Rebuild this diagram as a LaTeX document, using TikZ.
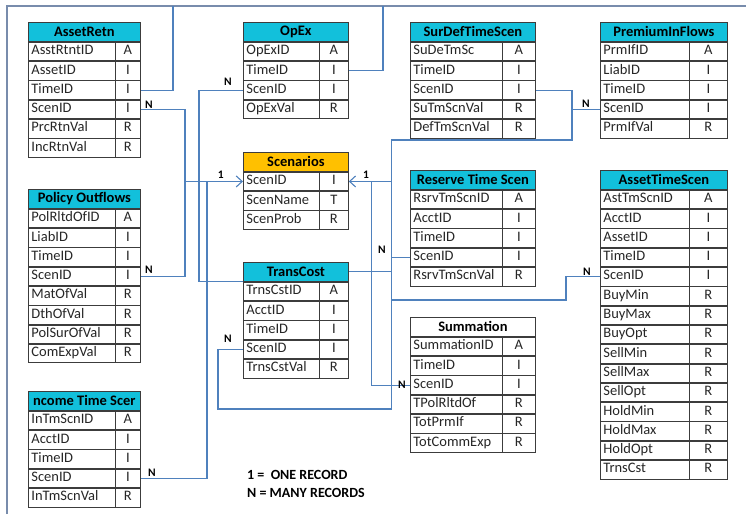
\documentclass[tikz,border=0pt]{standalone}
\usepackage{fontspec}
\setmainfont{Carlito}
\usetikzlibrary{positioning,arrows.meta}
\definecolor{headcyan}{RGB}{18,192,219}
\definecolor{headorange}{RGB}{255,192,0}
\definecolor{linkblue}{RGB}{79,129,189}
\definecolor{framegray}{RGB}{120,140,172}
\definecolor{gridgray}{RGB}{60,60,60}
\newlength{\fldw}
\newlength{\typw}
\newcommand{\tabfont}{\fontsize{14.5}{17}\selectfont}
\newcommand{\rw}[2]{\makebox[\fldw][l]{\hspace{3pt}#1}\makebox[\typw]{#2}}
\tikzset{
  cols/.code 2 args={\setlength{\fldw}{#1}\setlength{\typw}{#2}},
  hdr/.style={draw=gridgray, line width=0.8pt, fill=headcyan, font=\tabfont\bfseries,
    inner sep=0pt, minimum height=19pt, minimum width={\fldw+\typw}, anchor=north west},
  row/.style={draw=gridgray, line width=0.8pt, text=black!85, inner sep=0pt,
    minimum height=18.5pt, text height=10pt, text depth=3.5pt},
  sep/.style={draw=gridgray, line width=0.8pt},
  link/.style={draw=linkblue, line width=1.1pt},
  myarrow/.style={link, ->, >={Straight Barb[length=6pt,width=11pt]}},
  card/.style={font=\fontsize{11.5}{13}\selectfont\bfseries, inner sep=1pt},
  keytext/.style={font=\fontsize{14}{18}\selectfont\bfseries, inner sep=0pt, anchor=north west, align=left},
  frame/.style={draw=framegray, line width=1.5pt}
}

\begin{document}
\begin{tikzpicture}[x=1pt, y=-1pt, font=\tabfont]
    \useasboundingbox (0,0) rectangle (746,514);
    % outer frame
    \coordinate (fBL) at (7,514);
    \coordinate (fTR) at (746,6);
    \coordinate (topA) at (173,6);
    \coordinate (topB) at (383,6);
    \draw[frame] (fBL) |- (fTR);

    % AssetRetn
    \begin{scope}[cols={87pt}{25pt}]
    \node[hdr] (ar) at (28,22) {AssetRetn};
    \node[row, below=0pt of ar] (ar1) {\rw{AsstRtntID}{A}};
    \node[row, below=0pt of ar1] (ar2) {\rw{AssetID}{I}};
    \node[row, below=0pt of ar2] (ar3) {\rw{TimeID}{I}};
    \node[row, below=0pt of ar3] (ar4) {\rw{ScenID}{I}};
    \node[row, below=0pt of ar4] (ar5) {\rw{PrcRtnVal}{R}};
    \node[row, below=0pt of ar5] (ar6) {\rw{IncRtnVal}{R}};
    \draw[sep] ([xshift=\fldw]ar1.north west) -- ([xshift=\fldw]ar6.south west);
    \end{scope}

    % OpEx
    \begin{scope}[cols={76pt}{29pt}]
    \node[hdr] (ox) at (243,22) {OpEx};
    \node[row, below=0pt of ox] (ox1) {\rw{OpExID}{A}};
    \node[row, below=0pt of ox1] (ox2) {\rw{TimeID}{I}};
    \node[row, below=0pt of ox2] (ox3) {\rw{ScenID}{I}};
    \node[row, below=0pt of ox3] (ox4) {\rw{OpExVal}{R}};
    \draw[sep] ([xshift=\fldw]ox1.north west) -- ([xshift=\fldw]ox4.south west);
    \end{scope}

    % SurDefTimeScen
    \begin{scope}[cols={92pt}{33pt}]
    \node[hdr] (sd) at (410,22) {SurDefTimeScen};
    \node[row, below=0pt of sd] (sd1) {\rw{SuDeTmSc}{A}};
    \node[row, below=0pt of sd1] (sd2) {\rw{TimeID}{I}};
    \node[row, below=0pt of sd2] (sd3) {\rw{ScenID}{I}};
    \node[row, below=0pt of sd3] (sd4) {\rw{SuTmScnVal}{R}};
    \node[row, below=0pt of sd4] (sd5) {\rw{DefTmScnVal}{R}};
    \draw[sep] ([xshift=\fldw]sd1.north west) -- ([xshift=\fldw]sd5.south west);
    \end{scope}

    % PremiumInFlows
    \begin{scope}[cols={89pt}{38pt}]
    \node[hdr] (pf) at (600,22) {PremiumInFlows};
    \node[row, below=0pt of pf] (pf1) {\rw{PrmIfID}{A}};
    \node[row, below=0pt of pf1] (pf2) {\rw{LiabID}{I}};
    \node[row, below=0pt of pf2] (pf3) {\rw{TimeID}{I}};
    \node[row, below=0pt of pf3] (pf4) {\rw{ScenID}{I}};
    \node[row, below=0pt of pf4] (pf5) {\rw{PrmIfVal}{R}};
    \draw[sep] ([xshift=\fldw]pf1.north west) -- ([xshift=\fldw]pf5.south west);
    \end{scope}

    % Scenarios
    \begin{scope}[cols={76pt}{29pt}]
    \node[hdr, fill=headorange] (sc) at (243,152) {Scenarios};
    \node[row, below=0pt of sc] (sc1) {\rw{ScenID}{I}};
    \node[row, below=0pt of sc1] (sc2) {\rw{ScenName}{T}};
    \node[row, below=0pt of sc2] (sc3) {\rw{ScenProb}{R}};
    \draw[sep] ([xshift=\fldw]sc1.north west) -- ([xshift=\fldw]sc3.south west);
    \end{scope}

    % Policy Outflows
    \begin{scope}[cols={87pt}{25pt}]
    \node[hdr] (po) at (28,189) {Policy Outflows};
    \node[row, below=0pt of po] (po1) {\rw{PolRltdOfID}{A}};
    \node[row, below=0pt of po1] (po2) {\rw{LiabID}{I}};
    \node[row, below=0pt of po2] (po3) {\rw{TimeID}{I}};
    \node[row, below=0pt of po3] (po4) {\rw{ScenID}{I}};
    \node[row, below=0pt of po4] (po5) {\rw{MatOfVal}{R}};
    \node[row, below=0pt of po5] (po6) {\rw{DthOfVal}{R}};
    \node[row, below=0pt of po6] (po7) {\rw{PolSurOfVal}{R}};
    \node[row, below=0pt of po7] (po8) {\rw{ComExpVal}{R}};
    \draw[sep] ([xshift=\fldw]po1.north west) -- ([xshift=\fldw]po8.south west);
    \end{scope}

    % TransCost
    \begin{scope}[cols={76pt}{29pt}]
    \node[hdr] (tc) at (243,262) {TransCost};
    \node[row, below=0pt of tc] (tc1) {\rw{TrnsCstID}{A}};
    \node[row, below=0pt of tc1] (tc2) {\rw{AcctID}{I}};
    \node[row, below=0pt of tc2] (tc3) {\rw{TimeID}{I}};
    \node[row, below=0pt of tc3] (tc4) {\rw{ScenID}{I}};
    \node[row, below=0pt of tc4] (tc5) {\rw{TrnsCstVal}{R}};
    \draw[sep] ([xshift=\fldw]tc1.north west) -- ([xshift=\fldw]tc5.south west);
    \end{scope}

    % Reserve Time Scen
    \begin{scope}[cols={92pt}{33pt}]
    \node[hdr] (rs) at (410,170) {Reserve Time Scen};
    \node[row, below=0pt of rs] (rs1) {\rw{RsrvTmScnID}{A}};
    \node[row, below=0pt of rs1] (rs2) {\rw{AcctID}{I}};
    \node[row, below=0pt of rs2] (rs3) {\rw{TimeID}{I}};
    \node[row, below=0pt of rs3] (rs4) {\rw{ScenID}{I}};
    \node[row, below=0pt of rs4] (rs5) {\rw{RsrvTmScnVal}{R}};
    \draw[sep] ([xshift=\fldw]rs1.north west) -- ([xshift=\fldw]rs5.south west);
    \end{scope}

    % AssetTimeScen
    \begin{scope}[cols={89pt}{38pt}]
    \node[hdr] (at) at (600,170) {AssetTimeScen};
    \node[row, below=0pt of at] (at1) {\rw{AstTmScnID}{A}};
    \node[row, below=0pt of at1] (at2) {\rw{AcctID}{I}};
    \node[row, below=0pt of at2] (at3) {\rw{AssetID}{I}};
    \node[row, below=0pt of at3] (at4) {\rw{TimeID}{I}};
    \node[row, below=0pt of at4] (at5) {\rw{ScenID}{I}};
    \node[row, below=0pt of at5] (at6) {\rw{BuyMin}{R}};
    \node[row, below=0pt of at6] (at7) {\rw{BuyMax}{R}};
    \node[row, below=0pt of at7] (at8) {\rw{BuyOpt}{R}};
    \node[row, below=0pt of at8] (at9) {\rw{SellMin}{R}};
    \node[row, below=0pt of at9] (at10) {\rw{SellMax}{R}};
    \node[row, below=0pt of at10] (at11) {\rw{SellOpt}{R}};
    \node[row, below=0pt of at11] (at12) {\rw{HoldMin}{R}};
    \node[row, below=0pt of at12] (at13) {\rw{HoldMax}{R}};
    \node[row, below=0pt of at13] (at14) {\rw{HoldOpt}{R}};
    \node[row, below=0pt of at14] (at15) {\rw{TrnsCst}{R}};
    \draw[sep] ([xshift=\fldw]at1.north west) -- ([xshift=\fldw]at15.south west);
    \end{scope}

    % Summation
    \begin{scope}[cols={92pt}{33pt}]
    \node[hdr, fill=white] (sm) at (410,317) {Summation};
    \node[row, below=0pt of sm] (sm1) {\rw{SummationID}{A}};
    \node[row, below=0pt of sm1] (sm2) {\rw{TimeID}{I}};
    \node[row, below=0pt of sm2] (sm3) {\rw{ScenID}{I}};
    \node[row, below=0pt of sm3] (sm4) {\rw{TPolRltdOf}{R}};
    \node[row, below=0pt of sm4] (sm5) {\rw{TotPrmIf}{R}};
    \node[row, below=0pt of sm5] (sm6) {\rw{TotCommExp}{R}};
    \draw[sep] ([xshift=\fldw]sm1.north west) -- ([xshift=\fldw]sm6.south west);
    \end{scope}

    % Income Time Scen
    \begin{scope}[cols={87pt}{25pt}]
    \node[hdr] (it) at (28,391) {ncome Time Scer};
    \node[row, below=0pt of it] (it1) {\rw{InTmScnID}{A}};
    \node[row, below=0pt of it1] (it2) {\rw{AcctID}{I}};
    \node[row, below=0pt of it2] (it3) {\rw{TimeID}{I}};
    \node[row, below=0pt of it3] (it4) {\rw{ScenID}{I}};
    \node[row, below=0pt of it4] (it5) {\rw{InTmScnVal}{R}};
    \draw[sep] ([xshift=\fldw]it1.north west) -- ([xshift=\fldw]it5.south west);
    \end{scope}

    % links into Scenarios, left side
    \coordinate (jA) at ([xshift=-58pt]sc1.west);
    \coordinate (jB) at ([xshift=-44pt]ox3.west);
    \coordinate (jC) at ([xshift=-36pt]sc1.west);
    \draw[link] (ar4.east) -| (jA) |- (po4.east);
    \draw[link] (ox3.west) -- (jB) |- (tc.south west);
    \draw[link] (jC) |- (it4.east);
    \draw[myarrow] (jA) -- (sc1.west);

    % links into Scenarios, right side
    \coordinate (jD) at ([xshift=43pt]sc1.east);
    \coordinate (jE) at (218,409);
    \coordinate (jF) at (572,140);
    \coordinate (jH) at (566,300);
    \draw[link] (tc4.west) -| (jE) -| (jD);
    \draw[link] (sd3.east) -| (jF) -| (jD);
    \draw[link] (pf4.west) -- (pf4.west -| jF);
    \draw[link] ([xshift=23pt]sc1.east) |- (sm3.west);
    \draw[link] (rs4.west) -- (rs4.west -| jD);
    \draw[link] (tc.east) -- (tc.east -| jD);
    \draw[link] (at5.west) -| (jH) -- (jH -| jD);
    \draw[myarrow] (jD) -- (sc1.east);

    % links to the top
    \draw[link] (ar3.east) -| (topA);
    \draw[link] (ox2.east) -| (topB);

    % cardinalities
    \node[card, above right=0pt and 3pt of ar4.east] (nAr) {N};
    \node[card, above left=3pt and 10pt of ox3.west] (nOx) {N};
    \node[card, above left=2pt and 18pt of sc1.west] (oneL) {1};
    \node[card, above right=2pt and 13pt of sc1.east] (oneR) {1};
    \node[card, above left=1pt and 9pt of pf4.west] (nPf) {N};
    \node[card, above left=3pt and 23pt of rs4.west] (nRs) {N};
    \node[card, above right=2pt and 3pt of po4.east] (nPo) {N};
    \node[card, above left=6pt and 10pt of tc4.west] (nTc) {N};
    \node[card, left=3pt of sm3.west] (nSm) {N};
    \node[card, above left=0pt and 8pt of at5.west] (nAt) {N};
    \node[card, above right=1pt and 6pt of it4.east] (nIt) {N};

    % key
    \node[keytext] (key) at (247,470) {1 =\ \ ONE RECORD\\N = MANY RECORDS};
\end{tikzpicture}
\end{document}
